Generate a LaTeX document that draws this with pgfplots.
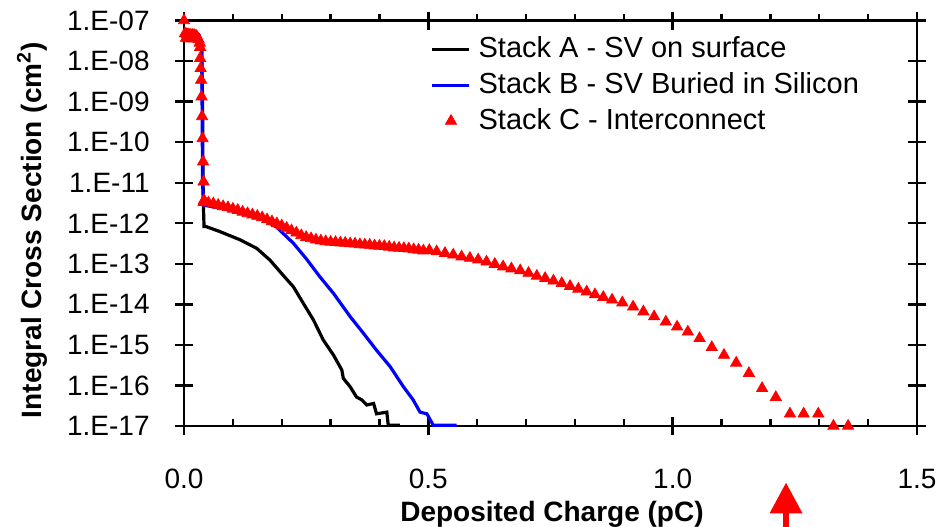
\documentclass[border=0pt]{standalone}
\usepackage{fontspec}
\setmainfont{Liberation Sans}
\usepackage{pgfplots}
\pgfplotsset{compat=1.18}
\usetikzlibrary{arrows.meta}
\begin{document}
\begin{tikzpicture}
\begin{axis}[
  name=ax,
  scale only axis,
  width=366.5pt, height=202.75pt,
  xmin=0, xmax=1.5,
  ymode=log, ymin=1e-17, ymax=1e-7,
  clip=false,
  axis line style={line width=1.3pt},
  every tick/.style={line width=1.2pt, black},
  tick align=center,
  major tick length=9pt,
  minor tick length=3.5pt,
  minor x tick style={yshift=1.75pt},
  xtick={0,0.5,1,1.5},
  xticklabels={0.0,0.5,1.0,1.5},
  minor x tick num=4,
  ytick={1e-17,1e-16,1e-15,1e-14,1e-13,1e-12,1e-11,1e-10,1e-9,1e-8,1e-7},
  yticklabels={1.E-17,1.E-16,1.E-15,1.E-14,1.E-13,1.E-12,1.E-11,1.E-10,1.E-09,1.E-08,1.E-07},
  yminorticks=false,
  xticklabel style={font=\fontsize{14}{16}\selectfont, anchor=center, yshift=-22pt},
  yticklabel style={font=\fontsize{14}{16}\selectfont, anchor=east, inner sep=0pt, xshift=-12.5pt},
  xlabel={Deposited Charge (pC)},
  ylabel={Integral Cross Section (cm\textsuperscript{2})},
  xlabel style={font=\bfseries\fontsize{14}{16}\selectfont, at={(axis description cs:0.502,-0.217)}, anchor=center},
  ylabel style={font=\bfseries\fontsize{14}{16}\selectfont, at={(axis description cs:-0.2074,0.483)}, anchor=center},
  legend image code/.code={\draw[mark repeat=2,mark phase=2,#1] plot coordinates {(0pt,0pt) (9.5pt,0pt) (18.5pt,0pt)};},
  legend style={draw=none, fill=none, inner sep=0pt,
    at={(axis description cs:0.3356,0.965)}, anchor=north west,
    font=\fontsize{14.5}{16}\selectfont,
    nodes={inner sep=0pt, text height=11pt, text depth=3pt},
    row sep=4pt, column sep=4pt},
  legend cell align=left,
]
\addplot[black, line width=1.6pt] coordinates {
(0.000,5.0e-8) (0.030,4.5e-8) (0.036,3.0e-8) (0.038,1e-9) (0.039,1e-11) (0.040,2.1e-12) (0.041,8.3e-13)
(0.045,8.3e-13) (0.074,6.2e-13) (0.115,3.9e-13) (0.149,2.4e-13) (0.176,1.23e-13) (0.203,5.2e-14)
(0.224,2.7e-14) (0.244,1.07e-14) (0.265,4.1e-15) (0.285,1.32e-15) (0.306,5.6e-16) (0.323,2.4e-16)
(0.326,1.5e-16) (0.340,9.3e-17) (0.353,5.2e-17) (0.364,4.4e-17) (0.374,3.3e-17) (0.388,3.6e-17)
(0.394,2.0e-17) (0.415,2.2e-17) (0.418,1.05e-17) (0.442,1.05e-17)
};
\addlegendentry{Stack A - SV on surface}
\addplot[blue, line width=1.6pt] coordinates {
(0.000,5.0e-8) (0.030,4.5e-8) (0.036,3.0e-8) (0.037,1e-9) (0.038,1e-11) (0.040,2.8e-12)
(0.080,2.3e-12) (0.120,1.8e-12) (0.160,1.25e-12) (0.190,8.0e-13) (0.203,5.6e-13)
(0.224,3.2e-13) (0.251,1.3e-13) (0.278,4.8e-14) (0.306,1.86e-14) (0.340,5.0e-15) (0.367,1.95e-15)
(0.394,7.4e-16) (0.422,2.9e-16) (0.449,9.3e-17) (0.469,4.4e-17) (0.483,2.2e-17) (0.497,2.0e-17)
(0.510,1.05e-17) (0.558,1.05e-17)
};
\addlegendentry{Stack B - SV Buried in Silicon}
\addplot[only marks, mark=triangle*, mark size=3.2pt, color=red, mark options={fill=red, draw=red}] coordinates {
(0.000,1.0e-7) (0.002,4.8e-8) (0.004,3.7e-8) (0.006,4.6e-8) (0.008,3.6e-8) (0.010,4.5e-8)
(0.012,3.6e-8) (0.014,4.4e-8) (0.016,3.6e-8) (0.018,4.4e-8) (0.020,3.6e-8) (0.022,4.3e-8)
(0.024,3.6e-8) (0.026,4.1e-8) (0.028,3.6e-8) (0.030,3.4e-8) (0.032,2.8e-8) (0.033,2.2e-8)
(0.033,1.17e-8) (0.034,6.6e-9) (0.035,3.4e-9) (0.036,1.32e-9) (0.037,4.3e-10) (0.038,1.23e-10)
(0.039,3.3e-11) (0.040,1.05e-11) (0.041,3.7e-12)
(0.040,3.3e-12) (0.050,3.2e-12) (0.060,3.05e-12) (0.070,2.8e-12) (0.080,2.6e-12) (0.090,2.45e-12)
(0.100,2.25e-12) (0.110,2.1e-12) (0.120,1.9e-12) (0.130,1.74e-12) (0.140,1.62e-12) (0.150,1.5e-12)
(0.160,1.38e-12) (0.170,1.23e-12) (0.180,1.1e-12) (0.190,9.8e-13) (0.200,8.7e-13) (0.210,7.6e-13)
(0.220,6.6e-13) (0.230,5.8e-13) (0.240,5.0e-13) (0.250,4.5e-13) (0.260,4.2e-13) (0.270,3.9e-13)
(0.280,3.7e-13) (0.290,3.55e-13) (0.300,3.45e-13) (0.310,3.4e-13) (0.320,3.3e-13) (0.330,3.25e-13)
(0.340,3.15e-13) (0.350,3.1e-13) (0.360,3.0e-13) (0.370,2.95e-13) (0.380,2.9e-13) (0.390,2.8e-13)
(0.400,2.75e-13) (0.410,2.7e-13) (0.420,2.6e-13) (0.430,2.5e-13) (0.440,2.45e-13) (0.450,2.4e-13)
(0.460,2.35e-13) (0.470,2.25e-13) (0.480,2.2e-13) (0.490,2.1e-13)
(0.502,2.15e-13) (0.517,2.0e-13) (0.534,1.82e-13) (0.551,1.66e-13) (0.568,1.5e-13) (0.585,1.38e-13)
(0.602,1.26e-13) (0.619,1.12e-13) (0.636,9.8e-14) (0.653,8.5e-14) (0.670,7.6e-14) (0.688,6.8e-14)
(0.705,5.9e-14) (0.722,5.0e-14) (0.739,4.4e-14) (0.756,3.8e-14) (0.773,3.3e-14) (0.790,2.8e-14)
(0.807,2.4e-14) (0.824,2.05e-14) (0.841,1.74e-14) (0.858,1.5e-14)
(0.876,1.29e-14) (0.897,1.1e-14) (0.919,8.7e-15) (0.940,6.6e-15) (0.962,5.0e-15) (0.986,3.7e-15)
(1.009,2.8e-15) (1.031,2.1e-15) (1.055,1.45e-15) (1.080,8.7e-16) (1.105,5.6e-16) (1.130,3.6e-16)
(1.156,2.0e-16) (1.183,8.5e-17) (1.211,5.1e-17) (1.240,2.0e-17) (1.268,2.0e-17) (1.298,2.0e-17)
(1.329,1.0e-17) (1.359,1.0e-17)
};
\addlegendentry{Stack C - Interconnect}
\draw[red, line width=3.3pt, -{Triangle[length=15.5pt,width=15.5pt]}]
  (axis description cs:0.8213,-0.26) -- (axis description cs:0.8213,-0.139);
\end{axis}
\pgfresetboundingbox
\useasboundingbox ([xshift=-92pt,yshift=-50pt]ax.south west) rectangle ([xshift=16.5pt,yshift=10.25pt]ax.north east);
\end{tikzpicture}
\end{document}
